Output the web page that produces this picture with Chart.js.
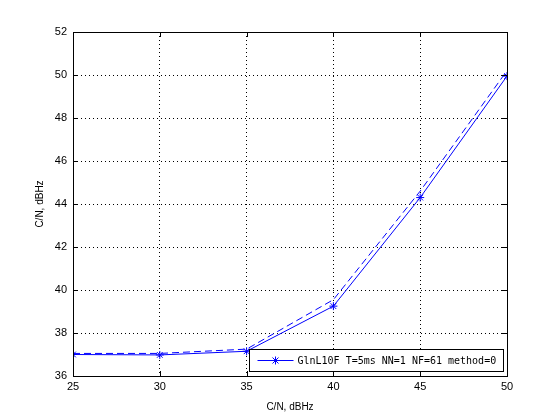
<!DOCTYPE html>
<html>
<head>
<meta charset="utf-8">
<script src="https://cdn.jsdelivr.net/npm/chart.js@4/dist/chart.umd.min.js"></script>
<style>
  body { margin: 0; background: #fff; }
  #wrap { width: 560px; height: 420px; }
</style>
</head>
<body>
<div id="wrap"><canvas id="cn"></canvas></div>
<script>
const xValues = [25, 30, 35, 40, 45, 50];
const measured = [37.0, 36.98, 37.15, 39.25, 44.3, 49.95];
const reference = [37.05, 37.05, 37.25, 39.55, 44.6, 50.2];
const legendText = 'GlnL10F T=5ms NN=1 NF=61 method=0';

const toPoints = (ys) => ys.map((y, i) => ({ x: xValues[i], y }));

// MATLAB-style box with inward ticks on all four sides
const boxTicks = {
  id: 'boxTicks',
  afterDraw(chart) {
    const { ctx, chartArea: a, scales } = chart;
    ctx.save();
    ctx.strokeStyle = '#000';
    ctx.lineWidth = 1;
    ctx.beginPath();
    scales.x.ticks.forEach((t) => {
      const px = Math.round(scales.x.getPixelForValue(t.value)) + 0.5;
      ctx.moveTo(px, a.bottom); ctx.lineTo(px, a.bottom - 5);
      ctx.moveTo(px, a.top); ctx.lineTo(px, a.top + 5);
    });
    scales.y.ticks.forEach((t) => {
      const py = Math.round(scales.y.getPixelForValue(t.value)) + 0.5;
      ctx.moveTo(a.left, py); ctx.lineTo(a.left + 5, py);
      ctx.moveTo(a.right, py); ctx.lineTo(a.right - 5, py);
    });
    ctx.stroke();
    ctx.strokeRect(Math.round(a.left) + 0.5, Math.round(a.top) + 0.5, Math.round(a.right - a.left), Math.round(a.bottom - a.top));

    // legend box, lower right
    const bx = 249.5, by = 349.5, bw = 254, bh = 22;
    ctx.fillStyle = '#fff';
    ctx.fillRect(bx, by, bw, bh);
    ctx.strokeRect(bx, by, bw, bh);
    const ly = by + bh / 2;
    ctx.strokeStyle = '#0000ff';
    ctx.beginPath();
    ctx.moveTo(bx + 8, ly); ctx.lineTo(bx + 44, ly);
    ctx.stroke();
    const sx = bx + 26, r = 4;
    ctx.beginPath();
    ctx.moveTo(sx - r, ly); ctx.lineTo(sx + r, ly);
    ctx.moveTo(sx, ly - r); ctx.lineTo(sx, ly + r);
    ctx.moveTo(sx - 3, ly - 3); ctx.lineTo(sx + 3, ly + 3);
    ctx.moveTo(sx - 3, ly + 3); ctx.lineTo(sx + 3, ly - 3);
    ctx.stroke();
    ctx.fillStyle = '#000';
    ctx.font = '10px "DejaVu Sans Mono"';
    ctx.textBaseline = 'middle';
    ctx.fillText(legendText, bx + 48, ly + 1);
    ctx.restore();
  },
};

const tickFont = { family: 'Liberation Sans', size: 11 };

new Chart(document.getElementById('cn'), {
  type: 'line',
  data: {
    datasets: [
      {
        label: legendText,
        data: toPoints(measured),
        borderColor: '#0000ff',
        backgroundColor: '#0000ff',
        borderWidth: 1,
        pointStyle: 'star',
        pointRadius: 4,
        pointBorderWidth: 1,
        tension: 0,
      },
      {
        label: 'ref',
        data: toPoints(reference),
        borderColor: '#0000ff',
        borderWidth: 1,
        borderDash: [7, 4],
        pointRadius: 0,
        tension: 0,
      },
    ],
  },
  options: {
    responsive: true,
    maintainAspectRatio: false,
    animation: false,
    layout: { padding: { left: 34, right: 53, top: 32, bottom: 7 } },
    plugins: { legend: { display: false }, tooltip: { enabled: false } },
    scales: {
      x: {
        type: 'linear',
        min: 25,
        max: 50,
        ticks: { stepSize: 5, color: '#000', font: tickFont, padding: 4 },
        grid: { color: '#000', lineWidth: 1, drawTicks: false, tickLength: 0 },
        border: { display: false, dash: [1, 3] },
        title: { display: true, text: 'C/N, dBHz', color: '#000', font: { family: 'Liberation Sans', size: 10 }, padding: { top: 2, bottom: 0 } },
        afterFit: (s) => { s.height = 37; },
      },
      y: {
        min: 36,
        max: 52,
        ticks: { stepSize: 2, color: '#000', font: tickFont, padding: 6 },
        grid: { color: '#000', lineWidth: 1, drawTicks: false, tickLength: 0 },
        border: { display: false, dash: [1, 3] },
        title: { display: true, text: 'C/N, dBHz', color: '#000', font: { family: 'Liberation Sans', size: 10 }, padding: { top: 0, bottom: 0 } },
        afterFit: (s) => { s.width = 39; },
      },
    },
  },
  plugins: [boxTicks],
});
</script>
</body>
</html>
